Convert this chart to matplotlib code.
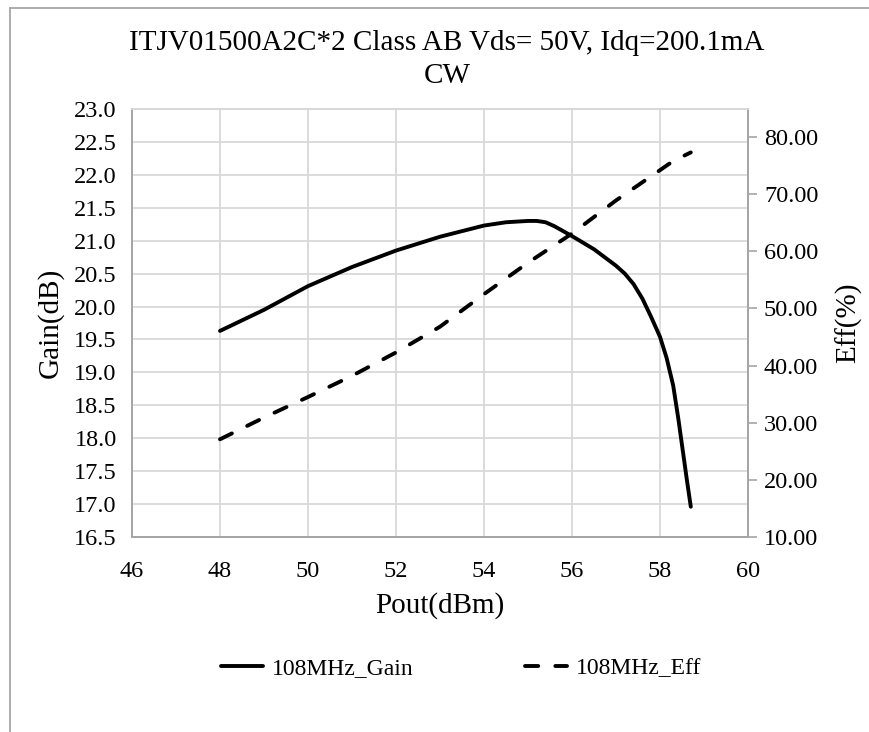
import matplotlib
matplotlib.use("Agg")
import matplotlib.pyplot as plt
from matplotlib.lines import Line2D

plt.rcParams['font.family'] = ['Liberation Serif', 'DejaVu Serif']

pout_gain = [48, 49, 50, 51, 52, 53, 54, 54.5, 55, 55.2, 55.4, 55.6, 56, 56.5, 57, 57.2, 57.4, 57.6, 57.8, 58.0, 58.15, 58.3, 58.42, 58.61, 58.7]
gain = [19.63, 19.95, 20.31, 20.60, 20.85, 21.06, 21.23, 21.28, 21.30, 21.30, 21.28, 21.22, 21.07, 20.87, 20.62, 20.50, 20.34, 20.12, 19.84, 19.54, 19.22, 18.80, 18.28, 17.37, 16.96]

pout_eff = [48, 49, 50, 51, 52, 53, 54, 55, 56, 57, 58, 58.3, 58.7]
eff = [27.1, 30.9, 34.5, 38.2, 42.3, 46.8, 52.5, 58.0, 63.1, 68.9, 74.2, 75.8, 77.3]

xticks = [46, 48, 50, 52, 54, 56, 58, 60]
gain_ticks = [16.5 + 0.5 * i for i in range(14)]
eff_ticks = [10, 20, 30, 40, 50, 60, 70, 80]

W, H = 869, 732
fig = plt.figure(figsize=(W / 100, H / 100), dpi=100)

# axes box in pixels: left 132, right 748, top 109, bottom 537
L, R, T, B = 132, 748, 109, 537
ax = fig.add_axes([L / W, 1 - B / H, (R - L) / W, (B - T) / H])
ax2 = ax.twinx()

grid_c = '#d9d9d9'
spine_c = '#a6a6a6'
ax.set_xlim(46, 60)
ax.set_ylim(16.5, 23.0)
ax.set_xticks(xticks)
ax.set_yticks(gain_ticks)
ax.set_yticklabels([f"{v:.1f}" for v in gain_ticks])
ax.grid(True, color=grid_c, linewidth=1.3)
ax.set_axisbelow(True)
ax.tick_params(axis='x', length=0, labelsize=17.5, pad=17)
ax.tick_params(axis='y', length=0, labelsize=17.5, pad=11)

ax2.set_ylim(10, 84.9)
ax2.set_yticks(eff_ticks)
ax2.set_yticklabels([f"{v:.2f}" for v in eff_ticks])
ax2.tick_params(axis='y', length=6.5, width=1.2, color=spine_c, labelsize=17.5, pad=5, direction='out')

for a in (ax, ax2):
    for s in a.spines.values():
        s.set_color(spine_c)
        s.set_linewidth(1.3)
    a.spines['top'].set_color(grid_c)

lw = 2.8
dash = (0, (3.4, 4.4))
ax.plot(pout_gain, gain, color='black', linewidth=lw, solid_capstyle='round',
        solid_joinstyle='round', zorder=3)
ax2.plot(pout_eff, eff, color='black', linewidth=lw, linestyle=dash,
         dash_capstyle='round', dash_joinstyle='round', zorder=3)

ax.set_xlabel('Pout(dBm)', fontsize=21, va='center')
ax.xaxis.set_label_coords(0.5, (B - 606) / (B - T))
ax.set_ylabel('Gain(dB)', fontsize=21, va='center', ha='center', rotation_mode='default')
ax.yaxis.set_label_coords((50 - L) / (R - L), 0.5)
ax2.set_ylabel('Eff(%)', fontsize=21, va='center', ha='center', rotation=90, rotation_mode='default')
ax2.yaxis.set_label_coords((849 - L) / (R - L), 0.5)

fig.text(447 / W, 1 - 50 / H, 'ITJV01500A2C*2 Class AB Vds= 50V, Idq=200.1mA',
         ha='center', va='baseline', fontsize=21)
fig.text(447 / W, 1 - 83 / H, 'CW', ha='center', va='baseline', fontsize=21)

handles = [Line2D([], [], color='black', linewidth=lw, solid_capstyle='round'),
           Line2D([], [], color='black', linewidth=lw, linestyle=dash, dash_capstyle='round')]
fig.legend(handles, ['108MHz_Gain', '108MHz_Eff'], loc='center', bbox_to_anchor=(461 / W, 1 - 668 / H),
           ncol=2, frameon=False, fontsize=17, handlelength=1.8, handletextpad=0.38, columnspacing=4.7,
           borderpad=0, borderaxespad=0)

# outer chart border (left and top edges visible)
fig.add_artist(Line2D([10 / W, 10 / W], [0, 1 - 8 / H], transform=fig.transFigure, color=spine_c, linewidth=1.3))
fig.add_artist(Line2D([10 / W, 1], [1 - 8 / H, 1 - 8 / H], transform=fig.transFigure, color=spine_c, linewidth=1.3))

fig.savefig('out.png', dpi=100)
